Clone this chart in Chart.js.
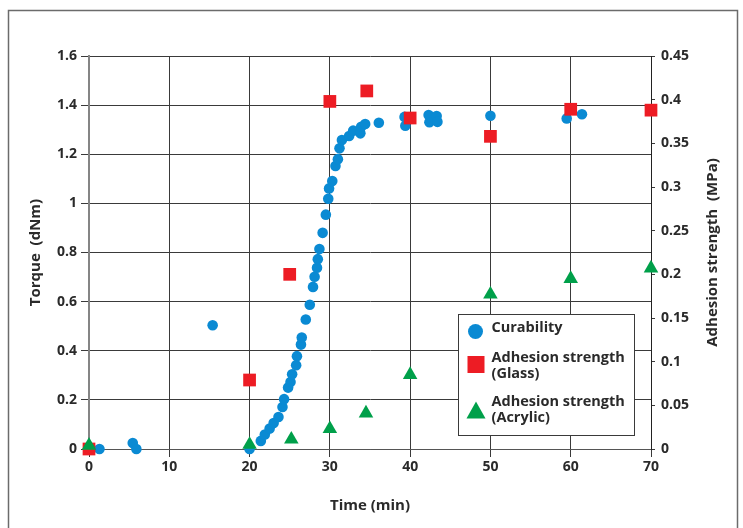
<!DOCTYPE html>
<html>
<head>
<meta charset="utf-8">
<script src="https://cdn.jsdelivr.net/npm/chart.js@4.4.1/dist/chart.umd.min.js"></script>
<style>
html,body{margin:0;padding:0;background:#fff;}
#wrap{position:relative;width:743px;height:528px;}
canvas{display:block;}
</style>
</head>
<body>
<div id="wrap"><canvas id="c" width="743" height="528"></canvas></div>
<script>
// ---- data ----
const curabilityTime = [1.3,5.45,5.9,15.4,20.0,21.4,21.9,22.5,23.0,23.6,24.1,24.3,24.8,25.1,25.3,25.8,25.9,26.4,26.5,27.0,27.5,27.9,28.1,28.4,28.5,28.7,29.1,29.5,29.8,29.9,30.3,30.7,31.0,31.2,31.5,32.4,32.9,33.8,33.9,34.4,36.1,39.3,39.4,42.3,42.4,43.3,43.4,50.0,59.5,61.4];
const curabilityTorque = [0,0.024,0,0.504,0,0.033,0.059,0.083,0.106,0.130,0.171,0.203,0.250,0.273,0.304,0.341,0.378,0.425,0.454,0.527,0.587,0.660,0.701,0.738,0.773,0.814,0.880,0.954,1.019,1.061,1.091,1.152,1.180,1.224,1.258,1.274,1.296,1.285,1.312,1.323,1.328,1.352,1.316,1.360,1.330,1.356,1.332,1.357,1.346,1.363];

const glassTime = [0,20,25,30,34.6,40,50,60,70];
const glassStrength = [0,0.079,0.2,0.398,0.41,0.379,0.358,0.389,0.388];

const acrylicTime = [0,20,25.2,30,34.5,40,50,60,70];
const acrylicStrength = [0.004,0.005,0.011,0.023,0.041,0.085,0.177,0.195,0.207];

const xTickValues = [0,10,20,30,40,50,60,70];
const xTickLabels = ['0','10','20','30','40','50','60','70'];
const yTickValues = [0,0.2,0.4,0.6,0.8,1,1.2,1.4,1.6];
const yTickLabels = ['0','0.2','0.4','0.6','0.8','1','1.2','1.4','1.6'];
const y2TickValues = [0,0.05,0.1,0.15,0.2,0.25,0.3,0.35,0.4,0.45];
const y2TickLabels = ['0','0.05','0.1','0.15','0.2','0.25','0.3','0.35','0.4','0.45'];

const seriesNames = ['Curability', ['Adhesion strength','(Glass)'], ['Adhesion strength','(Acrylic)']];
const axisTitles = {x:'Time (min)', y:'Torque  (dNm)', y2:'Adhesion strength  (MPa)'};

const BLUE = '#0a8ad3', RED = '#ed1c24', GREEN = '#00a04a';
const TEXT = '#2a2a2a';
const FONT = "'Open Sans', 'DejaVu Sans', sans-serif";

const pts = (xs, ys) => xs.map((x,i)=>({x:x, y:ys[i]}));

// frame around the figure + right axis title (reads bottom to top)
const framePlugin = {
  id:'frame',
  afterDraw(chart){
    const c = chart.ctx;
    c.save();
    c.strokeStyle = '#6b6b6b';
    c.lineWidth = 1.5;
    c.beginPath();
    c.moveTo(8.5, 528);
    c.lineTo(8.5, 10.5);
    c.lineTo(737.5, 10.5);
    c.lineTo(737.5, 528);
    c.stroke();
    const ca = chart.chartArea;
    c.translate(713, (ca.top + ca.bottom) / 2);
    c.rotate(-Math.PI / 2);
    c.fillStyle = TEXT;
    c.font = "bold 15px " + FONT;
    c.textAlign = 'center';
    c.textBaseline = 'middle';
    c.fillText(axisTitles.y2, 0, 0);
    c.restore();
  }
};

// legend box inside plot
const legendPlugin = {
  id:'boxLegend',
  afterDatasetsDraw(chart){
    const c = chart.ctx;
    c.save();
    const bx = 458.5, by = 314.5, bw = 176, bh = 121;
    c.fillStyle = '#fff';
    c.fillRect(bx, by, bw, bh);
    c.strokeStyle = '#3a3a3a';
    c.lineWidth = 1;
    c.strokeRect(bx, by, bw, bh);
    // markers
    c.fillStyle = BLUE;
    c.beginPath(); c.arc(475.5, 331.5, 7.5, 0, Math.PI*2); c.fill();
    c.fillStyle = RED;
    c.fillRect(467.5, 356, 17, 17);
    c.fillStyle = GREEN;
    c.beginPath(); c.moveTo(476, 401.5); c.lineTo(485.5, 418.5); c.lineTo(466.5, 418.5); c.closePath(); c.fill();
    // texts
    c.fillStyle = TEXT;
    c.font = "bold 14.5px " + FONT;
    c.textBaseline = 'middle';
    c.textAlign = 'left';
    c.fillText(seriesNames[0], 491.5, 328);
    c.fillText(seriesNames[1][0], 491.5, 357.5);
    c.fillText(seriesNames[1][1], 491.5, 373.5);
    c.fillText(seriesNames[2][0], 491.5, 402);
    c.fillText(seriesNames[2][1], 491.5, 418);
    c.restore();
  }
};

new Chart(document.getElementById('c'), {
  type:'scatter',
  data:{
    datasets:[
      {label:'Curability', data:pts(curabilityTime, curabilityTorque), yAxisID:'y',
       pointStyle:'circle', pointRadius:5.3, pointBorderWidth:0, backgroundColor:BLUE, borderColor:BLUE, order:3, clip:false},
      {label:'Adhesion strength (Glass)', data:pts(glassTime, glassStrength), yAxisID:'y2',
       pointStyle:'rect', pointRadius:9, pointBorderWidth:0, backgroundColor:RED, borderColor:RED, order:2, clip:false},
      {label:'Adhesion strength (Acrylic)', data:pts(acrylicTime, acrylicStrength), yAxisID:'y2',
       pointStyle:'triangle', pointRadius:8.4, pointBorderWidth:0, backgroundColor:GREEN, borderColor:GREEN, order:1, clip:false}
    ]
  },
  options:{
    responsive:false,
    animation:false,
    devicePixelRatio:1,
    layout:{padding:{left:0,right:0,top:56,bottom:0}},
    plugins:{legend:{display:false}, tooltip:{enabled:false}},
    scales:{
      x:{
        type:'linear', position:'bottom', min:0, max:70,
        afterBuildTicks:(s)=>{ s.ticks = xTickValues.map(v=>({value:v})); },
        afterFit:(s)=>{ s.height = 79; },
        grid:{color:'#3a3a3a', lineWidth:1, tickLength:8, drawTicks:true},
        border:{color:'#555', width:1},
        ticks:{color:TEXT, font:{family:FONT, size:14, weight:'bold'}, padding:2, maxRotation:0,
               callback:(v,i)=>xTickLabels[i]},
        title:{display:true, text:axisTitles.x, color:TEXT, font:{family:FONT, size:15, weight:'bold'}, padding:{top:0,bottom:13}}
      },
      y:{
        type:'linear', position:'left', min:0, max:1.6,
        afterBuildTicks:(s)=>{ s.ticks = yTickValues.map(v=>({value:v})); },
        afterFit:(s)=>{ s.width = 89; },
        grid:{color:'#3a3a3a', lineWidth:1, tickLength:8, drawTicks:true},
        border:{color:'#858585', width:2},
        ticks:{color:TEXT, font:{family:FONT, size:14, weight:'bold'}, padding:4,
               callback:(v,i)=>yTickLabels[i]},
        title:{display:true, text:axisTitles.y, color:TEXT, font:{family:FONT, size:15, weight:'bold'}, padding:{top:27,bottom:0}}
      },
      y2:{
        type:'linear', position:'right', min:0, max:0.45,
        afterBuildTicks:(s)=>{ s.ticks = y2TickValues.map(v=>({value:v})); },
        afterFit:(s)=>{ s.width = 92; },
        grid:{drawOnChartArea:false, color:'#3a3a3a', lineWidth:1, tickLength:4, drawTicks:true},
        border:{color:'#222', width:1},
        ticks:{color:TEXT, font:{family:FONT, size:14, weight:'bold'}, padding:6,
               callback:(v,i)=>y2TickLabels[i]},
        title:{display:false}
      }
    }
  },
  plugins:[legendPlugin, framePlugin]
});
</script>
</body>
</html>
